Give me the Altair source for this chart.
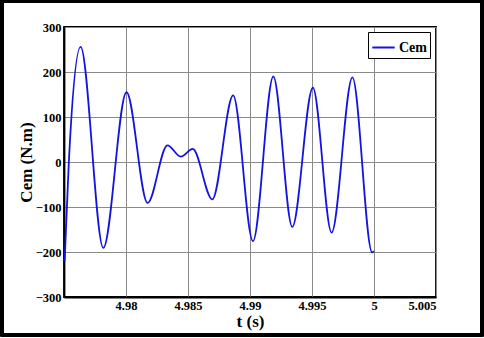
import altair as alt
import pandas as pd

# Data (start, extrema, end)
t_values = [4.97505, 4.97539, 4.97634, 4.97817, 4.98004,
            4.98174, 4.98334, 4.98442, 4.98538, 4.98696,
            4.98864, 4.99024, 4.99188, 4.99341, 4.99507,
            4.99658, 4.99826, 4.99985, 5.0]
cem_values = [-220, 0, 256, -191, 155,
              -91, 37, 12, 29, -83,
              148, -176, 190, -144, 165,
              -157, 188, -201, -198]
series_name = ["Cem"] * len(t_values)

x_ticks = [4.98, 4.985, 4.99, 4.995, 5.0, 5.005]
y_ticks = [-300, -200, -100, 0, 100, 200, 300]

df = pd.DataFrame({"t": t_values, "Cem": cem_values, "series": series_name})

FONT = "Liberation Serif"

line = alt.Chart(df).mark_line(interpolate="monotone", strokeWidth=1.8).encode(
    x=alt.X("t:Q",
            scale=alt.Scale(domain=[4.975, 5.005], nice=False, zero=False),
            axis=alt.Axis(values=x_ticks, format="~g", title="t (s)",
                          grid=True, tickSize=0, labelPadding=2,
                          titlePadding=2)),
    y=alt.Y("Cem:Q",
            scale=alt.Scale(domain=[-300, 300], nice=False),
            axis=alt.Axis(values=y_ticks, title="Cem (N.m)",
                          grid=True, tickSize=0, labelPadding=3,
                          titlePadding=0)),
    color=alt.Color("series:N",
                    scale=alt.Scale(domain=["Cem"], range=["#1414e0"]),
                    legend=alt.Legend(title=None, orient="none",
                                      legendX=304, legendY=5,
                                      symbolType="stroke", symbolSize=500,
                                      symbolStrokeWidth=2,
                                      labelFont=FONT, labelFontSize=14,
                                      labelFontWeight="bold", labelColor="black",
                                      fillColor="white", strokeColor="black",
                                      padding=3, labelOffset=3)),
)

frame = alt.Chart(df).mark_rect(filled=False, stroke="black", strokeWidth=2.5).encode(
    x=alt.value(-62), x2=alt.value(418), y=alt.value(-26), y2=alt.value(308)
)

chart = alt.layer(line, frame).properties(
    width=372, height=270,
    autosize=alt.AutoSizeParams(type="none"),
    padding={"left": 64, "top": 27, "right": 48, "bottom": 41},
    background="white",
).configure_view(
    stroke="black", strokeWidth=1.8
).configure_axis(
    labelFont=FONT, labelFontSize=12.5, labelFontWeight="bold", labelColor="black",
    titleFont=FONT, titleFontSize=17, titleFontWeight="bold", titleColor="black",
    domainColor="black", domainWidth=1.8,
    gridColor="#8a8a8a", gridWidth=1, gridOpacity=1,
)

chart.save("out.html", embed_options={"renderer": "svg", "actions": False})
